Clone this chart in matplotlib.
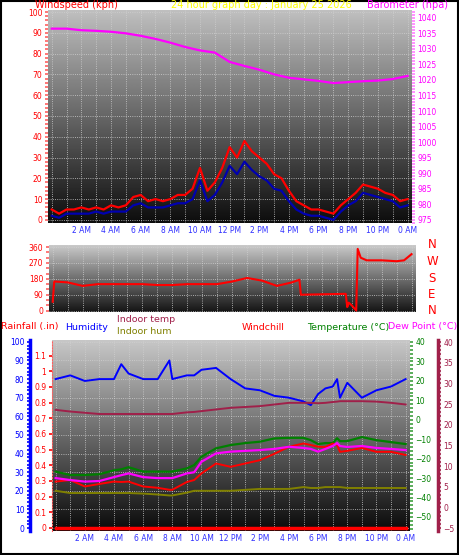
import numpy as np
import matplotlib
matplotlib.use("Agg")
import matplotlib.pyplot as plt
from matplotlib.ticker import MultipleLocator

W, H = 459, 555

# -------------------- data -------------------- #
hours_half = np.arange(0, 24.01, 0.5)
wind_gust = [5, 3, 5, 5, 6, 5, 6, 5, 7, 6, 7, 11, 12, 9, 10, 9, 10, 12, 12, 15,
             25, 14, 18, 25, 35, 30, 38, 33, 30, 27, 22, 20, 14, 9, 7, 5, 5, 4,
             3, 7, 10, 13, 17, 16, 15, 13, 12, 9, 10]
wind_avg = [2, 1, 3, 3, 3, 3, 4, 3, 4, 4, 4, 7, 8, 6, 6, 6, 7, 8, 8, 10,
            19, 9, 12, 18, 26, 22, 28, 24, 21, 19, 15, 14, 9, 5, 3, 2, 2, 1,
            0, 4, 7, 9, 13, 12, 11, 10, 9, 6, 7]

baro_hours = [0, 1, 2, 3, 4, 5, 6, 7, 8, 9, 10, 11, 12, 13, 14, 15, 16, 17, 18, 19, 20, 21, 22, 23, 24]
baro = [1036.5, 1036.5, 1036.0, 1035.8, 1035.5, 1035.0, 1034.2, 1033.2, 1032.0, 1030.6, 1029.5,
        1028.8, 1025.8, 1024.5, 1023.3, 1021.8, 1020.7, 1020.2, 1019.7, 1019.0, 1019.3, 1019.6,
        1019.8, 1020.3, 1021.3]

dir_hours = [0, 0.1, 1, 2, 3, 4, 5, 6, 7, 8, 9, 10, 11, 12, 13, 14, 15, 16, 16.5, 16.6,
             19.6, 19.7, 19.8, 20.0, 20.3, 20.4, 20.6, 21, 22, 23, 23.5, 24]
wind_dir = [50, 165, 160, 140, 150, 150, 150, 150, 145, 145, 150, 150, 150, 165, 185, 170,
            140, 160, 175, 90, 95, 20, 45, 30, 0, 350, 300, 285, 285, 280, 285, 320]

b_hours = [0, 1, 2, 3, 4, 4.5, 5, 6, 7, 7.8, 8, 9, 9.5, 10, 11, 12, 13, 14, 15, 16,
           17, 17.5, 18, 18.5, 19, 19.3, 19.5, 20, 21, 22, 23, 24]
humidity = [80, 82, 79, 80, 80, 88, 83, 80, 80, 90, 80, 82, 82, 85, 86, 80, 75, 74, 71, 70,
            68, 66, 72, 75, 76, 80, 70, 78, 70, 74, 76, 80]
temperature = [-26.7, -28.4, -28.4, -28.0, -26.0, -25.5, -24.4, -26.7, -26.7, -26.7, -26.7,
               -25.0, -23.3, -19.0, -14.7, -13.0, -12.0, -11.3, -9.6, -9.3, -9.3, -10.5,
               -12.5, -12.0, -12.0, -9.5, -11.0, -11.0, -8.9, -10.5, -11.5, -12.5]
dew_point = [-30.0, -31.0, -31.8, -31.5, -29.5, -28.5, -27.6, -29.5, -30.0, -30.0, -30.0,
             -27.6, -27.0, -21.6, -17.3, -16.4, -16.0, -15.6, -15.0, -13.9, -14.5, -15.0,
             -16.4, -15.0, -13.5, -12.0, -13.5, -14.0, -13.5, -14.5, -15.0, -15.6]
windchill = [-31.8, -31.0, -34.3, -33.0, -31.8, -32.0, -31.8, -34.3, -35.0, -36.0, -36.0,
             -32.0, -31.0, -27.6, -22.5, -24.2, -22.5, -20.8, -17.5, -13.9, -12.2, -13.0,
             -13.9, -14.0, -12.2, -13.0, -16.5, -16.0, -14.5, -16.5, -16.5, -18.1]
indoor_temp = [23.6, 23.2, 22.9, 22.6, 22.6, 22.6, 22.6, 22.6, 22.6, 22.6, 22.6, 23.0, 23.1,
               23.3, 23.7, 24.1, 24.3, 24.5, 24.9, 25.3, 25.3, 25.3, 25.2, 25.3, 25.5, 25.6,
               25.7, 25.7, 25.7, 25.6, 25.3, 24.9]
indoor_hum = [20, 18.8, 18.8, 18.8, 18.8, 18.8, 18.8, 18.5, 18.0, 17.5, 17.5, 19.0, 20.0,
              20.0, 20.0, 20.0, 20.5, 21.0, 21.0, 21.0, 22.0, 21.5, 21.5, 22.0, 22.0, 22.0,
              22.0, 21.5, 21.5, 21.5, 21.5, 21.5]
rainfall = [0.0] * len(b_hours)

tick_hours = list(range(2, 25, 2))
tick_labels = ["2 AM", "4 AM", "6 AM", "8 AM", "10 AM", "12 PM", "2 PM", "4 PM",
               "6 PM", "8 PM", "10 PM", "0 AM"]

TICK_BLUE = "#3030ff"
MAROON = "#a0204a"
OLIVE = "#808000"
GREEN = "#008000"
MAGENTA = "#ff00ff"


def rect(x0, y0, x1, y1):
    return [x0 / W, 1 - y1 / H, (x1 - x0) / W, (y1 - y0) / H]


def gradient(ax, top=0.78, bottom=0.05):
    g = np.linspace(top, bottom, 256).reshape(-1, 1)
    ax.imshow(g, cmap="gray", vmin=0, vmax=1, aspect="auto", extent=(0, 1, 0, 1),
              transform=ax.transAxes, zorder=0, interpolation="bilinear")


def time_axis(ax, show_labels=True):
    ax.set_xlim(-0.25, 24.3)
    ax.set_xticks(tick_hours)
    ax.set_xticks(range(0, 25), minor=True)
    if show_labels:
        ax.set_xticklabels(tick_labels, fontsize=5.5, color=TICK_BLUE)
    else:
        ax.set_xticklabels([])
    ax.tick_params(axis="x", which="both", length=0, pad=2)
    ax.grid(True, which="both", axis="x", color="#d0d0d0", linestyle=":", linewidth=0.6)
    ax.grid(True, which="major", axis="y", color="#d0d0d0", linestyle=":", linewidth=0.6)
    for s in ax.spines.values():
        s.set_visible(False)


def yaxis_style(ax, color, side="left"):
    ax.tick_params(axis="y", which="both", colors=color, labelsize=5.5, length=2, width=1.2, pad=2)
    ax.tick_params(axis="y", which="minor", length=2)
    if side == "left":
        ax.yaxis.tick_left()
    else:
        ax.yaxis.tick_right()


fig = plt.figure(figsize=(W / 100, H / 100), dpi=100)
fig.patch.set_facecolor("white")

# -------------------- top panel: wind + barometer -------------------- #
ax1 = fig.add_axes(rect(48, 10, 412, 223))
gradient(ax1, 0.75, 0.05)
ax1.plot(hours_half, wind_gust, color="red", lw=1.6, zorder=3)
ax1.plot(hours_half, wind_avg, color="#0000b0", lw=1.6, zorder=4)
ax1.set_ylim(-1.5, 101)
ax1.set_yticks(range(0, 101, 10))
ax1.yaxis.set_minor_locator(MultipleLocator(2))
time_axis(ax1)
yaxis_style(ax1, "red")
ax1.tick_params(axis="y", which="both", colors="#ff6060", labelcolor="red")

ax1b = ax1.twinx()
ax1b.plot(baro_hours, baro, color=MAGENTA, lw=1.6, zorder=5)
ax1b.set_ylim(974, 1042.5)
ax1b.set_yticks(range(975, 1041, 5))
ax1b.yaxis.set_minor_locator(MultipleLocator(1))
for s in ax1b.spines.values():
    s.set_visible(False)
yaxis_style(ax1b, MAGENTA, "right")
ax1b.tick_params(axis="y", which="both", colors="#ff80ff", labelcolor=MAGENTA)

fig.text(35 / W, 1 - 5 / H, "Windspeed (kph)", color="red", fontsize=7, va="center")
fig.text(171 / W, 1 - 5 / H, "24 hour graph day : January 25 2026", color="yellow",
         fontsize=7, va="center")
fig.text(367 / W, 1 - 5 / H, "Barometer (hpa)", color=MAGENTA, fontsize=7, va="center")

# -------------------- middle panel: wind direction -------------------- #
ax2 = fig.add_axes(rect(49, 245, 416, 312))
gradient(ax2, 0.8, 0.08)
ax2.plot(dir_hours, wind_dir, color="red", lw=1.5, zorder=3)
ax2.set_ylim(-8, 372)
ax2.set_yticks([0, 90, 180, 270, 360])
ax2.yaxis.set_minor_locator(MultipleLocator(30))
time_axis(ax2, show_labels=False)
yaxis_style(ax2, "red")
ax2.tick_params(axis="y", which="both", colors="#ff6060", labelcolor="red")
for i, lab in enumerate(["N", "E", "S", "W", "N"]):
    fig.text(432 / W, 1 - (311 - i * 16.5) / H, lab, color="red", fontsize=8.5,
             ha="center", va="center")

# -------------------- bottom panel: temps & humidity -------------------- #
ax3 = fig.add_axes(rect(52, 340, 410, 531))
gradient(ax3, 0.78, 0.04)
time_axis(ax3)
ax3.set_ylim(-1.6, 101)
ax3.set_yticks(range(0, 101, 10))
ax3.yaxis.set_minor_locator(MultipleLocator(2))
ax3.spines["left"].set_visible(True)
ax3.spines["left"].set_position(("axes", -22 / 358))
ax3.spines["left"].set_color("blue")
ax3.spines["left"].set_linewidth(2.5)
yaxis_style(ax3, "blue")
ax3.plot(b_hours, humidity, color="blue", lw=1.4, zorder=6)
ax3.plot(b_hours, indoor_hum, color=OLIVE, lw=1.4, zorder=3)

# rainfall axis (inner left)
ax_r = ax3.twinx()
for s in ax_r.spines.values():
    s.set_visible(False)
ax_r.spines["left"].set_visible(True)
ax_r.spines["left"].set_color("#ff6060")
ax_r.spines["left"].set_linestyle(":")
ax_r.set_ylim(-0.02, 1.2)
ax_r.set_yticks([round(v * 0.1, 1) for v in range(0, 12)])
ax_r.set_yticklabels(["0", "0.1", "0.2", "0.3", "0.4", "0.5", "0.6", "0.7", "0.8", "0.9", "1", "1.1"])
yaxis_style(ax_r, "red", "left")
ax_r.plot(b_hours, rainfall, color="red", lw=2.5, zorder=7)

# temperature axis (inner right)
ax_t = ax3.twinx()
for s in ax_t.spines.values():
    s.set_visible(False)
ax_t.set_ylim(-57.2, 41)
ax_t.set_yticks(range(-50, 41, 10))
ax_t.yaxis.set_minor_locator(MultipleLocator(2))
yaxis_style(ax_t, GREEN, "right")
ax_t.tick_params(axis="y", which="both", colors="#40a040", labelcolor=GREEN)
ax_t.plot(b_hours, temperature, color=GREEN, lw=1.6, zorder=4)
ax_t.plot(b_hours, dew_point, color=MAGENTA, lw=1.6, zorder=5)
ax_t.plot(b_hours, windchill, color="red", lw=1.4, zorder=4)

# indoor temp axis (outer right)
ax_i = ax3.twinx()
for s in ax_i.spines.values():
    s.set_visible(False)
ax_i.spines["right"].set_visible(True)
ax_i.spines["right"].set_position(("axes", 1 + 28 / 358))
ax_i.spines["right"].set_color(MAROON)
ax_i.spines["right"].set_linewidth(2.5)
ax_i.set_ylim(-5.7, 40.5)
ax_i.set_yticks(range(-5, 41, 5))
ax_i.yaxis.set_minor_locator(MultipleLocator(1))
yaxis_style(ax_i, MAROON, "right")
ax_i.plot(b_hours, indoor_temp, color=MAROON, lw=1.4, zorder=3)

fs = 6.8
fig.text(1 / W, 1 - 327 / H, "Rainfall (.in)", color="red", fontsize=fs, va="center")
fig.text(65 / W, 1 - 327 / H, "Humidity", color="blue", fontsize=fs, va="center")
fig.text(117 / W, 1 - 320 / H, "Indoor temp", color=MAROON, fontsize=fs, va="center")
fig.text(117 / W, 1 - 332 / H, "Indoor hum", color=OLIVE, fontsize=fs, va="center")
fig.text(242 / W, 1 - 327 / H, "Windchill", color="red", fontsize=fs, va="center")
fig.text(307 / W, 1 - 327 / H, "Temperature (°C)", color=GREEN, fontsize=fs, va="center")
fig.text(457 / W, 1 - 327 / H, "Dew Point (°C)", color=MAGENTA, fontsize=fs, va="center",
         ha="right")

# outer black border
fig.add_artist(plt.Rectangle((0.002, 0.002), 0.996, 0.996, transform=fig.transFigure,
                             fill=False, edgecolor="black", linewidth=1.5))

fig.savefig("out.png", dpi=100)
